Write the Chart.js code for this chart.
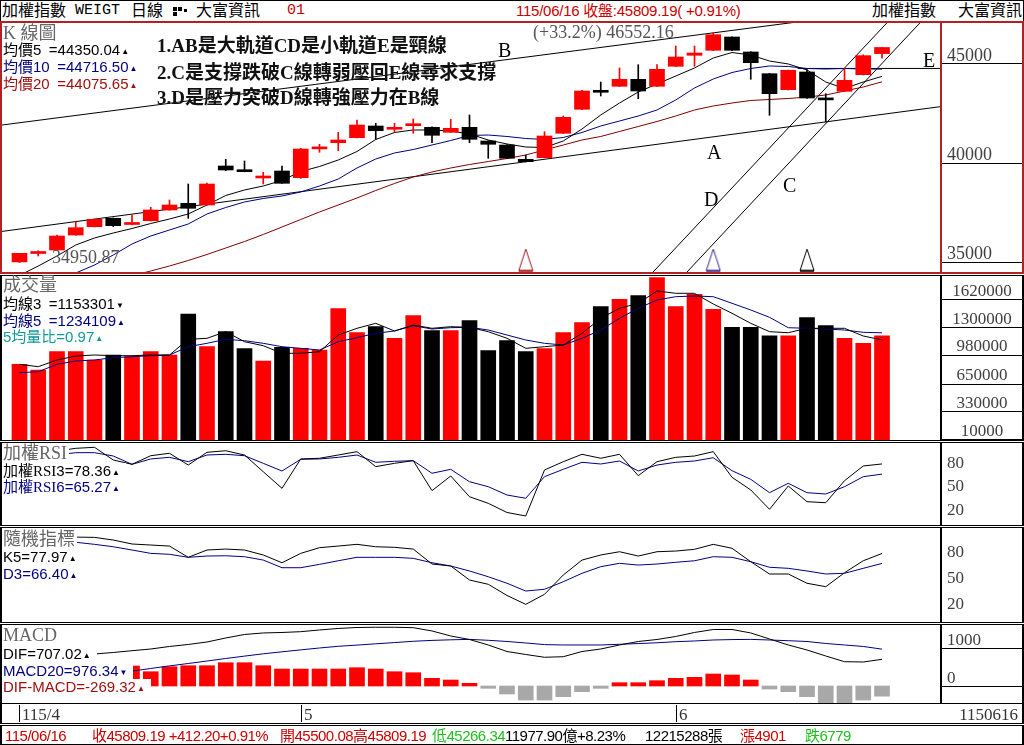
<!DOCTYPE html>
<html><head><meta charset="utf-8"><title>加權指數 日線</title>
<script src="https://cdn.jsdelivr.net/npm/chart.js@4.4.1/dist/chart.umd.min.js"></script>
<style>
html,body{margin:0;padding:0;background:#fff;}
#wrap{position:relative;width:1024px;height:745px;overflow:hidden;background:#fff;font-family:"Liberation Sans","Noto Sans CJK TC",sans-serif;color:#000;}
#wrap canvas{position:absolute;}
.box{position:absolute;box-sizing:border-box;}
.t{position:absolute;white-space:pre;}
.sf{font-family:"Liberation Serif","Noto Sans CJK TC",serif;}
.mono{font-family:"Liberation Mono","Noto Sans CJK TC",monospace;}
.lg{font-size:15px;line-height:16px;background:#fff;padding-right:6px;}
.ttl{font-size:18px;line-height:18px;color:#666;background:#fff;padding-right:2px;}
.tri{font-size:8px;vertical-align:1px;margin-left:1px;}
.ann{font-size:19px;line-height:22px;font-weight:bold;color:#111;}
.let{font-size:20px;line-height:22px;color:#000;}
.gray{color:#555;font-size:18px;line-height:20px;}
.info{font-size:15px;line-height:16px;top:728px;letter-spacing:-0.5px;}
.hdr{font-size:16px;line-height:18px;top:2px;}
.sq{position:absolute;background:#000;}
</style></head>
<body>
<div id="wrap">
  <!-- frames -->
  <div class="box" style="left:0;top:0;width:1024px;height:22px;border-top:1px solid #000;border-left:1px solid #000;border-right:1px solid #000;"></div>
  <div class="box" style="left:0;top:21px;width:1024px;height:253px;border:2px solid #b22222;"></div>
  <div class="box" style="left:940px;top:23px;width:2px;height:249px;background:#b22222;"></div>
  <div class="box" style="left:0;top:275px;width:1024px;height:166px;border-style:solid;border-color:#000;border-width:1px 2px;"></div>
  <div class="box" style="left:940px;top:276px;width:2px;height:164px;background:#000;"></div>
  <div class="box" style="left:0;top:442px;width:1024px;height:84px;border-style:solid;border-color:#000;border-width:1px 2px;"></div>
  <div class="box" style="left:940px;top:443px;width:2px;height:82px;background:#000;"></div>
  <div class="box" style="left:0;top:527px;width:1024px;height:96px;border-style:solid;border-color:#000;border-width:1px 2px;"></div>
  <div class="box" style="left:940px;top:528px;width:2px;height:94px;background:#000;"></div>
  <div class="box" style="left:0;top:624px;width:1024px;height:80px;border-style:solid;border-color:#000;border-width:1px 2px;"></div>
  <div class="box" style="left:940px;top:625px;width:2px;height:78px;background:#000;"></div>
  <div class="box" style="left:0;top:703px;width:1024px;height:21px;border-style:solid;border-color:#000;border-width:0 2px 1px 2px;"></div>
  <div class="box" style="left:0;top:725px;width:1024px;height:20px;border-style:solid;border-color:#000;border-width:1px 2px;"></div>

  <canvas id="cK" width="938" height="249" style="left:2px;top:23px;"></canvas>
  <canvas id="cV" width="938" height="164" style="left:2px;top:276px;"></canvas>
  <canvas id="cR" width="938" height="82" style="left:2px;top:443px;"></canvas>
  <canvas id="cS" width="938" height="94" style="left:2px;top:528px;"></canvas>
  <canvas id="cM" width="938" height="78" style="left:2px;top:625px;"></canvas>

  <!-- header -->
  <div class="t hdr" style="left:2px;">加權指數</div>
  <div class="t hdr mono" style="left:75px;font-size:15px;">WEIGT</div>
  <div class="t hdr" style="left:131px;">日線</div>
  <div class="sq" style="left:173px;top:7px;width:4px;height:4px;"></div>
  <div class="sq" style="left:178px;top:7px;width:4px;height:4px;"></div>
  <div class="sq" style="left:173px;top:12px;width:4px;height:4px;"></div>
  <div class="sq" style="left:184px;top:9px;width:3px;height:3px;"></div>
  <div class="t hdr" style="left:196px;">大富資訊</div>
  <div class="t hdr mono" style="left:287px;color:#cc0000;font-size:15px;">01</div>
  <div class="t hdr" style="left:516px;color:#cc0000;font-size:15px;letter-spacing:-0.25px;">115/06/16 收盤:45809.19( +0.91%)</div>
  <div class="t hdr" style="left:872px;">加權指數</div>
  <div class="t hdr" style="left:958px;">大富資訊</div>

  <!-- K panel text -->
  <div class="t ttl sf" style="left:3px;top:24px;">K 線圖</div>
  <div class="t lg" style="left:3px;top:42px;color:#000;">均價5&#8194;=44350.04<span class="tri">▲</span></div>
  <div class="t lg" style="left:3px;top:59px;color:#000080;">均價10&#8194;=44716.50<span class="tri">▲</span></div>
  <div class="t lg" style="left:3px;top:76px;color:#a01010;">均價20&#8194;=44075.65<span class="tri">▲</span></div>
  <div class="t ann sf" style="left:157px;top:35px;">1.AB是大軌道CD是小軌道E是頸線</div>
  <div class="t ann sf" style="left:157px;top:62px;">2.C是支撐跌破C線轉弱壓回E線尋求支撐</div>
  <div class="t ann sf" style="left:157px;top:87px;">3.D是壓力突破D線轉強壓力在B線</div>
  <div class="t let sf" style="left:498px;top:39px;">B</div>
  <div class="t let sf" style="left:707px;top:141px;">A</div>
  <div class="t let sf" style="left:704px;top:188px;">D</div>
  <div class="t let sf" style="left:783px;top:174px;">C</div>
  <div class="t let sf" style="left:923px;top:49px;">E</div>
  <div class="t gray sf" style="left:533px;top:22px;">(+33.2%) 46552.16</div>
  <div class="t gray sf" style="left:52px;top:247px;">34950.87</div>

  <!-- Volume text -->
  <div class="t ttl" style="left:3px;top:276px;">成交量</div>
  <div class="t lg" style="left:3px;top:296px;color:#000;">均線3&#8194;=1153301<span class="tri">▼</span></div>
  <div class="t lg" style="left:3px;top:313px;color:#000080;">均線5&#8194;=1234109<span class="tri">▲</span></div>
  <div class="t lg" style="left:3px;top:329px;color:#119999;">5均量比=0.97<span class="tri">▲</span></div>

  <!-- RSI text -->
  <div class="t ttl" style="left:3px;top:444px;">加權<span class="sf">RSI</span></div>
  <div class="t lg" style="left:3px;top:463px;color:#000;">加權<span class="sf">RSI</span>3=78.36<span class="tri">▲</span></div>
  <div class="t lg" style="left:3px;top:479px;color:#000080;">加權<span class="sf">RSI</span>6=65.27<span class="tri">▲</span></div>

  <!-- KD text -->
  <div class="t ttl" style="left:3px;top:530px;">隨機指標</div>
  <div class="t lg" style="left:3px;top:549px;color:#000;">K5=77.97<span class="tri">▲</span></div>
  <div class="t lg" style="left:3px;top:566px;color:#000080;">D3=66.40<span class="tri">▲</span></div>

  <!-- MACD text -->
  <div class="t ttl sf" style="left:3px;top:626px;">MACD</div>
  <div class="t lg" style="left:3px;top:646px;color:#000;">DIF=707.02<span class="tri">▲</span></div>
  <div class="t lg" style="left:3px;top:663px;color:#000080;">MACD20=976.34<span class="tri">▼</span></div>
  <div class="t lg" style="left:3px;top:679px;color:#a01010;">DIF-MACD=-269.32<span class="tri">▲</span></div>

  <!-- bottom info row -->
  <div class="t info" style="left:5px;color:#cc0000;">115/06/16</div>
  <div class="t info" style="left:92px;color:#cc0000;">收45809.19 +412.20+0.91%</div>
  <div class="t info" style="left:280px;color:#cc0000;">開45500.08高45809.19</div>
  <div class="t info" style="left:432px;color:#1fbf1f;">低45266.34</div>
  <div class="t info" style="left:505px;color:#000;">11977.90億+8.23%</div>
  <div class="t info" style="left:645px;color:#000;">12215288張</div>
  <div class="t info" style="left:740px;color:#cc0000;">漲4901</div>
  <div class="t info" style="left:805px;color:#1fbf1f;">跌6779</div>
</div>

<script>
// ================= DATA =================
const opens  = [34980, 35405, 35582, 36339, 36758, 37183, 36870, 37061, 37602, 37940,
                37854, 39824, 39556, 39218, 39571, 39233, 40687, 41000, 41253, 41844,
                41677, 41859, 41778, 41526, 41778, 41086, 40884, 40162, 40243, 41475,
                42687, 43636, 43849, 44202, 43849, 44859, 45414, 45667, 46338, 45581,
                44485, 43677, 44571, 43182, 43596, 44434, 45500.08];
const highs  = [35415, 35545, 36330, 37011, 37150, 37200, 37349, 37738, 38107, 38915,
                38960, 40162, 40076, 39506, 39824, 40718, 40920, 41526, 42147, 41980,
                41980, 42197, 41800, 42182, 42399, 41100, 40900, 40379, 41556, 42349,
                43640, 44066, 44773, 44939, 44939, 45884, 45884, 46552.16, 46350, 45600,
                44500, 44670, 44687, 43475, 44737, 45444, 45809.19];
const lows   = [34950.87, 35280, 35560, 36320, 36740, 36758, 36844, 37040, 37590, 37183,
                37840, 39586, 39530, 38915, 38940, 39200, 40516, 40596, 41240, 41172,
                41526, 41475, 41000, 41510, 41000, 40213, 40200, 40030, 40230, 41460,
                42670, 43359, 43830, 43222, 43830, 44840, 44859, 45650, 45650, 44202,
                42384, 43660, 43240, 42046, 43580, 44420, 45266.34];
const closes = [35415, 35430, 36289, 36708, 37132, 36809, 36910, 37602, 37854, 37688,
                38915, 39622, 39536, 39243, 38950, 40682, 40707, 41137, 41894, 41606,
                41758, 41879, 41374, 41728, 41172, 40920, 40213, 40041, 41339, 42283,
                43611, 43546, 44202, 43611, 44707, 45328, 45530, 46454, 45667, 45040,
                43475, 44657, 43258, 43162, 44152, 45396.99, 45809.19];
const ma5  = [34300, 34773, 35279, 35834, 36188, 36440, 36667, 36920, 37147, 37400,
              37854, 38334, 38612, 38814, 39092, 39546, 39798, 40127, 40556, 41162,
              41516, 41642, 41642, 41591, 41440, 41137, 40935, 40783, 40758, 41086,
              41692, 42399, 43005, 43561, 43965, 44369, 44773, 45278, 45555, 45429,
              45126, 44975, 44672, 44066, 43737, 44066, 44350.04];
const ma10 = [33150, 33560, 33966, 34420, 34824, 35329, 35885, 36289, 36592, 36895,
              37400, 37728, 38006, 38183, 38309, 38511, 38814, 39167, 39723, 40177,
              40480, 40657, 40884, 41111, 41364, 41389, 41314, 41213, 41162, 41263,
              41516, 41844, 42096, 42349, 42652, 43157, 43763, 44217, 44545, 44748,
              44874, 44848, 44748, 44722, 44748, 44722, 44716.50];
const ma20 = [32650, 32926, 33198, 33470, 33738, 34016, 34284, 34521, 34774, 35052,
              35355, 35683, 36011, 36365, 36743, 37122, 37501, 37854, 38208, 38587,
              38940, 39268, 39521, 39723, 39899, 40051, 40202, 40379, 40632, 40884,
              41137, 41314, 41566, 41819, 42071, 42349, 42652, 42854, 43005, 43132,
              43182, 43233, 43308, 43409, 43611, 43813, 44075.65];
const volumes = [871300, 805700, 1016500, 1016500, 920900, 978400, 958900, 1016500, 978400, 1450700,
                 1074000, 1246800, 1051000, 909300, 1067100, 1055600, 1036000, 1511700, 1235300, 1304400,
                 1170800, 1431100, 1258300, 1258300, 1373500, 1028000, 1143200, 1016500, 1051000, 1235300,
                 1350500, 1534800, 1620000, 1661500, 1868800, 1534800, 1677600, 1504800, 1297500, 1297500,
                 1200700, 1200700, 1408100, 1315900, 1170800, 1113200, 1200700];
const volMa3 = [871300, 843700, 920900, 966900, 978400, 970400, 970400, 978400, 978400, 1159300,
                1170800, 1246800, 1131600, 1085600, 998000, 998000, 1016500, 1208800, 1286000, 1343600,
                1254900, 1324000, 1286000, 1304400, 1297500, 1246800, 1170800, 1055600, 1074000, 1093600,
                1228400, 1401200, 1516300, 1573900, 1715600, 1689100, 1689100, 1565900, 1458700, 1343600,
                1246800, 1235300, 1286000, 1286000, 1286000, 1197300, 1153301];
const volMa5 = [774600, 786100, 871300, 909300, 920900, 947300, 958900, 970400, 978400, 1074000,
                1113200, 1159300, 1143200, 1113200, 1074000, 1055600, 1036000, 1131600, 1177700, 1228400,
                1254900, 1315900, 1277900, 1292900, 1297500, 1266400, 1208800, 1151200, 1113200, 1093600,
                1170800, 1266400, 1401200, 1516300, 1611900, 1650000, 1658000, 1650000, 1573900, 1496800,
                1412700, 1292900, 1286000, 1277900, 1266400, 1239900, 1234109];
const rsi3 = [90, 88, 95, 98.5, 99.8, 83.5, 77.9, 89, 92.1, 77,
              93.4, 95.4, 89.9, 68.4, 47, 84.8, 85.7, 89.9, 94.2, 74.9,
              79.2, 82.6, 44, 62.9, 36.2, 27.7, 15.9, 11.4, 70.6, 81.3,
              90.8, 85.7, 90.8, 63.3, 81.3, 86.9, 88.6, 94.2, 61.2, 44.9,
              20, 50, 29.8, 28.5, 56.8, 75.8, 78.36];
const rsi6 = [85, 86, 90, 92.9, 92.9, 88.6, 77.9, 84.8, 86.9, 81.3,
              89.9, 90.8, 89, 79.2, 69.3, 84.4, 84.8, 86.9, 89.9, 80.5,
              81.8, 82.6, 66.4, 71.5, 55.5, 49.1, 38.4, 34.2, 62, 71.5,
              80.5, 78.3, 82.2, 69.3, 77, 80.5, 82.2, 86.4, 69.7, 58.6,
              41.4, 53.5, 41.4, 39.7, 49.1, 62, 65.27];
const kLine = [93, 92, 95, 97, 96.7, 93.6, 89, 87.8, 86.6, 73.5,
               82, 83.1, 82, 76.2, 67.2, 78.1, 84.7, 86.6, 88.6, 85.8,
               85.1, 83.1, 65.7, 63.4, 47.1, 42.1, 29.1, 18.8, 30.5, 52.9,
               70.3, 76.2, 80, 75, 80, 80.8, 82.8, 88.6, 84, 68.4,
               54.1, 54.1, 43.3, 39.3, 55.6, 69.5, 77.97];
const dLine = [86, 88, 90, 91, 88.6, 85.8, 82, 78.1, 77, 73.5,
               75, 75.3, 74.2, 70.3, 61.4, 61.4, 65.3, 69.5, 73.5, 73.5,
               73.5, 72.3, 67.2, 63.4, 57.6, 50.9, 43.3, 34.3, 36.3, 45.1,
               54.9, 62.6, 66.5, 64.5, 65.7, 67.7, 69.5, 74.2, 73.5, 68.4,
               61.9, 60.7, 57.6, 54.1, 54.9, 60.7, 66.40];
const dif = [700, 740, 780, 815, 848, 888, 935, 980, 1047, 1100,
             1166, 1272, 1365, 1405, 1418, 1439, 1484, 1524, 1550, 1556,
             1556, 1545, 1458, 1325, 1232, 1087, 914, 835, 761, 776,
             914, 980, 1087, 1179, 1232, 1312, 1418, 1497, 1497, 1405,
             1246, 1087, 954, 795, 644, 636, 707.02];
const macd20 = [-16, 53, 119, 188, 257, 323, 397, 464, 533, 596,
                662, 729, 792, 853, 906, 957, 1007, 1052, 1084, 1118,
                1150, 1185, 1208, 1224, 1235, 1211, 1179, 1140, 1097, 1087,
                1087, 1087, 1105, 1124, 1145, 1174, 1193, 1219, 1230, 1235,
                1219, 1200, 1179, 1126, 1087, 1047, 976.34];
const osc = [560, 600, 620, 600, 590, 560, 530, 379, 511, 538,
             538, 617, 617, 538, 450, 450, 450, 450, 485, 450,
             379, 352, 204, 159, 72, -61, -212, -371, -371, -283,
             -150, -62, 88, 88, 141, 203, 230, 318, 292, 159,
             -80, -150, -283, -442, -442, -371, -269.32];
// trend lines (index, price)
const trendA = [{x: -0.93, y: 36521}, {x: 49.09, y: 42818}];
const trendB = [{x: -0.93, y: 41894}, {x: 41.25, y: 47070}];
const trendC = [{x: 35.6, y: 34470}, {x: 48.03, y: 47060}];
const trendD = [{x: 33.79, y: 34470}, {x: 46.27, y: 47060}];
const trendE = [{x: 41.5, y: 44750}, {x: 49.09, y: 44750}];
const signalIdx = [27, 37, 42];
const signalColors = ['#a01818', '#3a2a90', '#000000'];
const signalLevel = 35050;
const dateTickIdx = [0, 15, 35];
const dateTickLabels = ['115/4', '5', '6'];
const lastDateLabel = '1150616';
const priceTicks = [45000, 40000, 35000];
const volTicks = [1620000, 1300000, 980000, 650000, 330000, 10000];
const rsiTicks = [80, 50, 20];
const kdTicks = [80, 50, 20];
const macdTicks = [1000, 0];

// ================= CHARTS =================
const X_MIN = -0.933, X_MAX = 49.093;
const UP = '#ff0000', DOWN = '#000000';
const candleColors = closes.map((c, i) => (c >= opens[i] ? UP : DOWN));

function opts(yMin, yMax) {
  return {
    responsive: false, animation: false, events: [],
    layout: { padding: 0, autoPadding: false },
    plugins: { legend: { display: false }, tooltip: { enabled: false } },
    scales: {
      x: { type: 'linear', min: X_MIN, max: X_MAX, display: false, offset: false },
      y: { type: 'linear', min: yMin, max: yMax, display: false, beginAtZero: false }
    }
  };
}
function lineDS(values, color) {
  return { type: 'line', data: values.map((v, i) => ({ x: i, y: v })), borderColor: color,
           borderWidth: 1, pointRadius: 0, tension: 0, fill: false };
}
function trendDS(pts) {
  return { type: 'line', data: pts, borderColor: '#000', borderWidth: 1, pointRadius: 0, tension: 0, fill: false };
}
function triangleImg(color) {
  const c = document.createElement('canvas'); c.width = 16; c.height = 24;
  const g = c.getContext('2d'); g.strokeStyle = color; g.lineWidth = 1;
  g.beginPath(); g.moveTo(8, 0.5); g.lineTo(15, 22); g.lineTo(1, 22); g.closePath(); g.stroke();
  g.fillStyle = color; g.fillRect(1, 21.5, 14, 2);
  return c;
}

const chartK = new Chart(document.getElementById('cK'), {
  type: 'bar',
  data: { datasets: [
    { type: 'line', data: signalIdx.map(i => ({ x: i, y: signalLevel })), showLine: false,
      pointStyle: signalColors.map(triangleImg), pointRadius: 6, clip: false },
    { type: 'bar', data: opens.map((o, i) => ({ x: i, y: [o, closes[i]] })), backgroundColor: candleColors,
      barThickness: 15, grouped: false, minBarLength: 2 },
    { type: 'bar', data: lows.map((l, i) => ({ x: i, y: [l, highs[i]] })), backgroundColor: candleColors,
      barThickness: 1, grouped: false },
    lineDS(ma5, '#000000'), lineDS(ma10, '#000080'), lineDS(ma20, '#800000'),
    trendDS(trendA), trendDS(trendB), trendDS(trendC), trendDS(trendD), trendDS(trendE)
  ]},
  options: opts(34471, 47045)
});

const chartV = new Chart(document.getElementById('cV'), {
  type: 'bar',
  data: { datasets: [
    lineDS(volMa3, '#000000'), lineDS(volMa5, '#000080'),
    { type: 'bar', data: volumes.map((v, i) => ({ x: i, y: v })), backgroundColor: candleColors,
      barThickness: 15, grouped: false }
  ]},
  options: opts(-600, 1888400)
});

const chartR = new Chart(document.getElementById('cR'), {
  type: 'line',
  data: { datasets: [ lineDS(rsi3, '#000000'), lineDS(rsi6, '#000080') ] },
  options: opts(-0.2, 105.35)
});

const chartS = new Chart(document.getElementById('cS'), {
  type: 'line',
  data: { datasets: [ lineDS(kLine, '#000000'), lineDS(dLine, '#000080') ] },
  options: opts(-1.74, 107.6)
});

const chartM = new Chart(document.getElementById('cM'), {
  type: 'bar',
  data: { datasets: [
    lineDS(dif, '#000000'), lineDS(macd20, '#000080'),
    { type: 'bar', data: osc.map((v, i) => ({ x: i, y: v })),
      backgroundColor: osc.map(v => (v >= 0 ? '#ff0000' : '#a8a8a8')), barThickness: 15, grouped: false }
  ]},
  options: opts(-450, 1616)
});

// ================= AXIS TEXT (through chart scales) =================
const wrap = document.getElementById('wrap');
function addDiv(css, text, cls) {
  const d = document.createElement('div');
  if (cls) d.className = cls;
  d.style.cssText = css;
  if (text !== undefined) d.textContent = text;
  wrap.appendChild(d);
  return d;
}
function axisLabels(chart, top, ticks, mode, size) {
  const ys = chart.scales.y;
  ticks.forEach(v => {
    const py = top + ys.getPixelForValue(v);
    if (mode !== 'mid') {
      addDiv('position:absolute;left:942px;width:80px;height:1px;background:#000;top:' + Math.round(py) + 'px;');
    }
    let css = 'font-size:' + size + 'px;line-height:' + size + 'px;color:#404040;';
    if (mode === 'center') css += 'left:942px;width:80px;text-align:center;';
    else css += 'left:947px;';
    css += 'top:' + (mode === 'mid' ? py - size / 2 - 0.2 : py - 17.5) + 'px;';
    addDiv(css, String(v), 't sf');
  });
}
axisLabels(chartK, 23, priceTicks, 'left', 18);
axisLabels(chartV, 276, volTicks, 'center', 17);
axisLabels(chartR, 443, rsiTicks, 'mid', 17);
axisLabels(chartS, 528, kdTicks, 'mid', 17);
axisLabels(chartM, 625, macdTicks, 'left', 17);

// date row from the MACD x scale
const xs = chartM.scales.x;
dateTickIdx.forEach((idx, k) => {
  const px = 2 + xs.getPixelForValue(idx);
  addDiv('position:absolute;width:1px;height:17px;background:#000;top:705px;left:' + Math.round(px) + 'px;');
  addDiv('font-size:17px;line-height:17px;color:#333;top:706px;left:' + (Math.round(px) + 3) + 'px;', dateTickLabels[k], 't sf');
});
addDiv('font-size:17px;line-height:17px;color:#333;top:706px;right:6px;', lastDateLabel, 't sf');
</script>
</body></html>
